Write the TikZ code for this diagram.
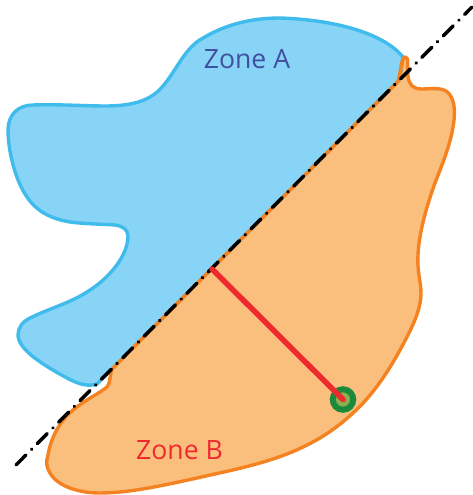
\documentclass[tikz,border=0pt]{standalone}
\usepackage{fontspec}
\setmainfont{Open Sans}
\usepackage{xcolor}
\definecolor{zoneblue}{RGB}{135,212,247}
\definecolor{edgeblue}{RGB}{63,187,236}
\definecolor{zoneorange}{RGB}{248,148,38}
\definecolor{edgeorange}{RGB}{245,130,32}
\definecolor{textblue}{RGB}{65,80,160}
\definecolor{linered}{RGB}{238,42,46}
\definecolor{ringgreen}{RGB}{27,138,58}
\definecolor{spotgreen}{RGB}{141,174,76}

\begin{document}
\begin{tikzpicture}[
  x=1pt, y=-1pt,
  zonea/.style={fill=zoneblue, draw=edgeblue, line width=3.4pt, line join=round},
  zoneb/.style={fill=zoneorange, fill opacity=0.6, draw=edgeorange, line width=3.4pt, line join=round},
  axis/.style={black, line width=3.5pt, line cap=round, dash pattern=on 14pt off 8pt on 0.28pt off 8pt},
  lbl/.style={font=\fontsize{26.6}{30}\selectfont, inner sep=0pt},
  spot/.style={circle, draw=ringgreen, fill=spotgreen, line width=6pt, minimum size=20.5pt, inner sep=0pt}
]
\useasboundingbox (0,0) rectangle (473,495);

\draw[zonea] (400,79.5) -- (403,57)
  .. controls (385,35) and (340,20) .. (280,18)
  .. controls (250,18) and (225,25) .. (203,38)
  .. controls (180,50) and (172,85) .. (150,97)
  .. controls (140,103) and (125,106) .. (105,106)
  .. controls (85,106) and (55,104) .. (33,105)
  .. controls (18,105) and (8,115) .. (8,130)
  .. controls (8,150) and (15,180) .. (27,197)
  .. controls (37,212) and (52,219) .. (70,222)
  .. controls (85,224) and (100,224) .. (115,225)
  .. controls (123,226) and (128,230) .. (128,236)
  .. controls (128,255) and (110,278) .. (87,292)
  .. controls (70,303) and (48,309) .. (30,318)
  .. controls (22,322) and (18,328) .. (18,335)
  .. controls (18,350) and (45,366) .. (67,378)
  .. controls (78,384) and (88,387) .. (97,384) -- cycle;

\draw[zoneb] (398,81.4)
  .. controls (401,72) and (401,57) .. (405.5,57)
  .. controls (409,57) and (407,66) .. (408,76)
  .. controls (409,85) and (413,89) .. (422,89)
  .. controls (428,89) and (434,88) .. (440,89)
  .. controls (450,90) and (456,100) .. (454,120)
  .. controls (452,140) and (444,160) .. (435,183)
  .. controls (427,205) and (419,232) .. (418,255)
  .. controls (417,272) and (421,282) .. (421,293)
  .. controls (421,310) and (412,328) .. (400,350)
  .. controls (388,372) and (372,396) .. (353,413)
  .. controls (338,427) and (322,438) .. (303,447)
  .. controls (270,463) and (232,470) .. (197,478)
  .. controls (165,485) and (130,493) .. (100,493)
  .. controls (80,493) and (58,487) .. (50,473)
  .. controls (46,467) and (46,461) .. (48,455)
  .. controls (51,437) and (60,421) .. (73,410)
  .. controls (85,400) and (100,393) .. (107,387)
  .. controls (110,384) and (110,376) .. (111.5,369.5) -- cycle;

% dividing line and measure
\coordinate (top) at (472,7);
\coordinate (bot) at (16,465);
\coordinate (foot) at (212,269);
\draw[axis] (bot) -- (top);
\node[spot] (marker) at (343,399.5) {};
\draw[linered, line width=5.5pt, line cap=round] (foot) -- (marker.center);

\node[lbl, text=textblue] (za) at (247,59) {Zone A};
\node[lbl, text=linered] (zb) at (179.5,450) {Zone B};
\end{tikzpicture}
\end{document}
